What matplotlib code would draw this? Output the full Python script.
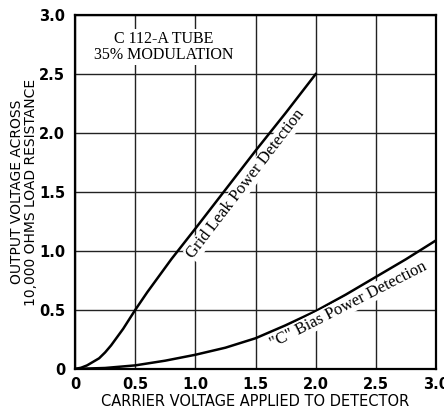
import matplotlib
matplotlib.use('Agg')
import matplotlib.pyplot as plt

# carrier voltage (x) and detected output (y) for the two detector types
grid_leak_x = [0.0, 0.05, 0.1, 0.15, 0.2, 0.25, 0.3, 0.35, 0.4, 0.45, 0.5,
               0.6, 0.7, 0.8, 1.0, 1.25, 1.5, 1.75, 2.0]
grid_leak_y = [0.0, 0.01, 0.03, 0.06, 0.09, 0.14, 0.2, 0.27, 0.34, 0.42, 0.5,
               0.65, 0.79, 0.93, 1.19, 1.52, 1.85, 2.17, 2.5]

c_bias_x = [0.0, 0.25, 0.5, 0.75, 1.0, 1.25, 1.5, 1.75, 2.0, 2.25, 2.5, 2.75, 3.0]
c_bias_y = [0.0, 0.008, 0.03, 0.07, 0.12, 0.18, 0.26, 0.37, 0.49, 0.63, 0.78, 0.93, 1.09]

ticks = [0, 0.5, 1.0, 1.5, 2.0, 2.5, 3.0]
tick_labels = ['0', '0.5', '1.0', '1.5', '2.0', '2.5', '3.0']

sans = ['DejaVu Sans']
serif = ['Liberation Serif', 'DejaVu Serif']

fig = plt.figure(figsize=(4.44, 4.09), dpi=100)
ax = fig.add_axes([0.169, 0.098, 0.813, 0.865])

ax.plot(grid_leak_x, grid_leak_y, color='black', lw=1.8, solid_joinstyle='round')
ax.plot(c_bias_x, c_bias_y, color='black', lw=1.8, solid_joinstyle='round')

ax.set_xlim(0, 3.0)
ax.set_ylim(0, 3.0)
ax.set_xticks(ticks)
ax.set_yticks(ticks)
ax.set_xticklabels(tick_labels, family=sans, fontsize=10.5, weight='bold')
ax.set_yticklabels(tick_labels, family=sans, fontsize=10.5, weight='bold')
ax.tick_params(axis='x', length=0, pad=6)
ax.tick_params(axis='y', length=0, pad=7)
ax.grid(True, color='#222222', lw=1.0)
for s in ax.spines.values():
    s.set_linewidth(1.6)

ax.set_xlabel('CARRIER VOLTAGE APPLIED TO DETECTOR', family=sans, fontsize=10.5, labelpad=1)
ax.set_ylabel('OUTPUT VOLTAGE ACROSS\n10,000 OHMS LOAD RESISTANCE', family=sans,
              fontsize=10, linespacing=0.95, labelpad=1)

ax.text(0.74, 2.73, 'C 112-A TUBE\n35% MODULATION', family=serif, fontsize=11.5,
        ha='center', va='center', linespacing=1.05,
        bbox=dict(facecolor='white', edgecolor='none', pad=1))

ax.text(1.42, 1.57, 'Grid Leak Power Detection', family=serif, fontsize=12,
        rotation=52.5, ha='center', va='center', rotation_mode='anchor',
        bbox=dict(facecolor='white', edgecolor='none', pad=0.5))
ax.text(2.27, 0.54, '"C" Bias Power Detection', family=serif, fontsize=12,
        rotation=27, ha='center', va='center', rotation_mode='anchor',
        bbox=dict(facecolor='white', edgecolor='none', pad=0.5))

fig.savefig('out.png', dpi=100)
